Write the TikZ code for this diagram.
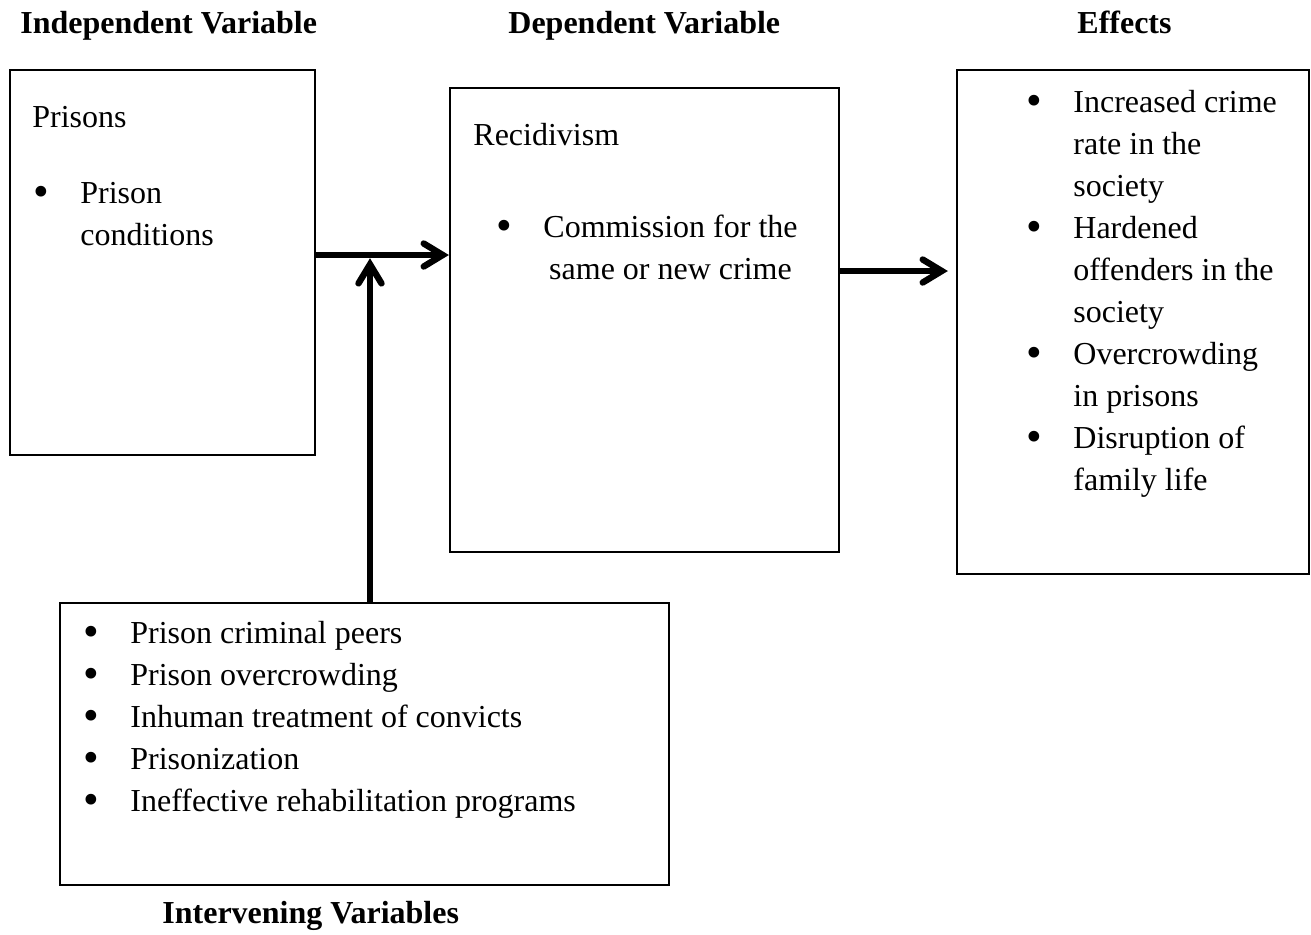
\documentclass[tikz,border=0pt]{standalone}
\usepackage{fontspec}
\setmainfont{Liberation Serif}
\usetikzlibrary{positioning,arrows.meta}
\tikzstyle{box} = [rectangle, draw, line width=1.1pt, inner sep=0pt]
\tikzstyle{txt} = [inner sep=0pt, anchor=base west, font=\fontsize{16}{21}\selectfont]
\tikzstyle{head} = [txt, font=\fontsize{16}{21}\selectfont\bfseries]
\tikzstyle{line} = [draw, line width=3.2pt, -{Straight Barb[length=9.5pt, width=11.5pt, line cap=round]}]
\newcommand{\bul}{\raisebox{-0.12em}{\scalebox{1.4}{\textbullet}}}
\begin{document}
\begin{tikzpicture}[x=0.5pt, y=-0.5pt]
	\useasboundingbox (0,0) rectangle (1311,934);
	%% Independent variable box
	\node[box, minimum width=152.5pt, minimum height=192.5pt] (IV) at (162.5,262.5) {};
	%% Dependent variable box
	\node[box, minimum width=194.5pt, minimum height=232pt] (DV) at (644.5,320) {};
	%% Effects box
	\node[box, minimum width=176pt, minimum height=252pt] (EF) at (1133,322) {};
	%% Intervening variables box
	\node[box, minimum width=304.5pt, minimum height=141pt] (IN) at (364.5,744) {};
	%% headings
	\node[head] (IV-head) at (20,33) {Independent Variable};
	\node[head] (DV-head) at (508,33) {Dependent Variable};
	\node[head] (EF-head) at (1077,33) {Effects};
	\node[head] (IN-head) at (162,923) {Intervening Variables};
	%% Prisons
	\node[txt] (IV-title) at (32,127) {Prisons};
	\node[txt] (IV-list) at (33,203) {\begin{tabular}[t]{@{}p{23.5pt}@{}l@{}}
		\bul & Prison\\
		     & conditions
	\end{tabular}};
	%% Recidivism
	\node[txt] (DV-title) at (473,145) {Recidivism};
	\node[txt] (DV-list) at (496,237) {\begin{tabular}[t]{@{}p{23.5pt}@{}c@{}}
		\bul & Commission for the\\
		     & same or new crime
	\end{tabular}};
	%% Effects
	\node[txt] (EF-list) at (1026,112) {\begin{tabular}[t]{@{}p{23.5pt}@{}l@{}}
		\bul & Increased crime\\
		     & rate in the\\
		     & society\\
		\bul & Hardened\\
		     & offenders in the\\
		     & society\\
		\bul & Overcrowding\\
		     & in prisons\\
		\bul & Disruption of\\
		     & family life
	\end{tabular}};
	%% Intervening variables
	\node[txt] (IN-list) at (83,643) {\begin{tabular}[t]{@{}p{23.5pt}@{}l@{}}
		\bul & Prison criminal peers\\
		\bul & Prison overcrowding\\
		\bul & Inhuman treatment of convicts\\
		\bul & Prisonization\\
		\bul & Ineffective rehabilitation programs
	\end{tabular}};
	%% edges
	\coordinate (J) at (370,255);
	\coordinate (K) at (897,271);
	\path[line] (IV.east |- J) -- (DV.west |- J);
	\path[line, shorten >=1.6pt] (IN.north -| J) -- (J);
	\path[line, shorten >=4pt] (DV.east |- K) -- (EF.west |- K);
\end{tikzpicture}
\end{document}
